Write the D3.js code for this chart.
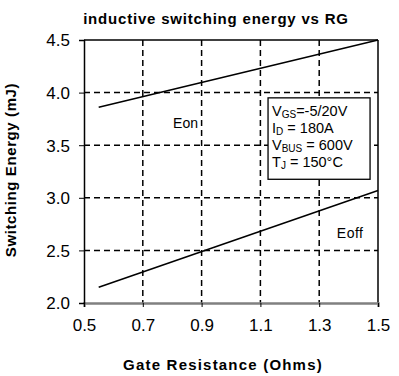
<!DOCTYPE html>
<meta charset="utf-8">
<style>
body { margin: 0; background: #fff; }
svg { font-family: "Liberation Sans", Arial, sans-serif; }
.grid line { stroke: #000; stroke-dasharray: 6,4; stroke-width: 1.5; }
.tick text { font-size: 17px; fill: #000; }
</style>
<svg width="399" height="376"></svg>
<script src="https://d3js.org/d3.v7.min.js"></script>
<script>
// values
var rg = [0.55, 1.5];
var eon = [3.86, 4.5];
var eoff = [2.15, 3.07];
var xTicks = [0.5, 0.7, 0.9, 1.1, 1.3, 1.5];
var yTicks = [2.0, 2.5, 3.0, 3.5, 4.0, 4.5];
var notes = [["V", "GS", "=-5/20V"], ["I", "D", " = 180A"], ["V", "BUS", " = 600V"], ["T", "J", " = 150°C"]];

var svg = d3.select("svg");
var m = {left: 84, right: 21, top: 40, bottom: 73},
    w = 399 - m.left - m.right,
    h = 376 - m.top - m.bottom;

var x = d3.scaleLinear().domain([0.5, 1.5]).range([0, w]);
var y = d3.scaleLinear().domain([2.0, 4.5]).range([h, 0]);

var g = svg.append("g").attr("transform", "translate(" + m.left + "," + m.top + ")");

// dashed grid
g.append("g").attr("class", "grid")
  .selectAll("line").data(xTicks.slice(1, -1)).enter().append("line")
    .attr("x1", d => x(d)).attr("x2", d => x(d))
    .attr("y1", 0).attr("y2", h);
g.append("g").attr("class", "grid")
  .selectAll("line").data(yTicks.slice(1, -1)).enter().append("line")
    .attr("x1", 0).attr("x2", w)
    .attr("y1", d => y(d)).attr("y2", d => y(d));

// frame
g.append("line").attr("x1", 0).attr("x2", w).attr("y1", 0).attr("y2", 0).attr("stroke", "#000").attr("stroke-width", 1.5);
g.append("line").attr("x1", w).attr("x2", w).attr("y1", 0).attr("y2", h).attr("stroke", "#000").attr("stroke-width", 1.5);

// axes
var xa = g.append("g").attr("transform", "translate(0," + h + ")")
  .call(d3.axisBottom(x).tickValues(xTicks).tickFormat(d3.format(".1f")).tickSize(4).tickPadding(12));
xa.select(".domain").attr("stroke", "#808080").attr("stroke-width", 2.5);
xa.selectAll(".tick line").attr("stroke", "#000");

var ya = g.append("g")
  .call(d3.axisLeft(y).tickValues(yTicks).tickFormat(d3.format(".1f")).tickSize(5).tickPadding(9));
ya.select(".domain").attr("stroke", "#000").attr("stroke-width", 1.5);
ya.selectAll(".tick text").attr("dy", "0.35em");

// curves
var line = d3.line().x(d => x(d[0])).y(d => y(d[1]));
[eon, eoff].forEach(function(s) {
  g.append("path")
    .datum(rg.map((r, i) => [r, s[i]]))
    .attr("fill", "none").attr("stroke", "#000").attr("stroke-width", 1.5)
    .attr("d", line);
});

g.append("text").attr("x", x(0.803)).attr("y", y(3.66)).attr("font-size", 14).text("Eon");
g.append("text").attr("x", x(1.36)).attr("y", y(2.614)).attr("font-size", 14).attr("letter-spacing", 0.5).text("Eoff");

// conditions box
var bx = x(1.126), by = y(3.95);
g.append("rect").attr("x", bx).attr("y", by)
  .attr("width", x(1.473) - bx).attr("height", y(3.176) - by)
  .attr("fill", "#fff").attr("stroke", "#000").attr("stroke-width", 1.3);
notes.forEach(function(n, i) {
  var t = g.append("text").attr("x", bx + 4).attr("y", by + 18 + i * 17).attr("font-size", 14.5);
  t.append("tspan").text(n[0]);
  t.append("tspan").attr("dy", 2).attr("font-size", 10).text(n[1]);
  t.append("tspan").attr("dy", -2).text(n[2]);
});

// titles
svg.append("text").attr("x", 216).attr("y", 24).attr("text-anchor", "middle")
  .attr("font-weight", "bold").attr("font-size", 15).attr("letter-spacing", 0.8)
  .text("inductive switching energy vs RG");
svg.append("text").attr("x", 223).attr("y", 370).attr("text-anchor", "middle")
  .attr("font-weight", "bold").attr("font-size", 15).attr("letter-spacing", 1.2)
  .text("Gate Resistance (Ohms)");
svg.append("text").attr("transform", "translate(16,170) rotate(-90)").attr("text-anchor", "middle")
  .attr("font-weight", "bold").attr("font-size", 15).attr("letter-spacing", 0.6)
  .text("Switching Energy (mJ)");
</script>
